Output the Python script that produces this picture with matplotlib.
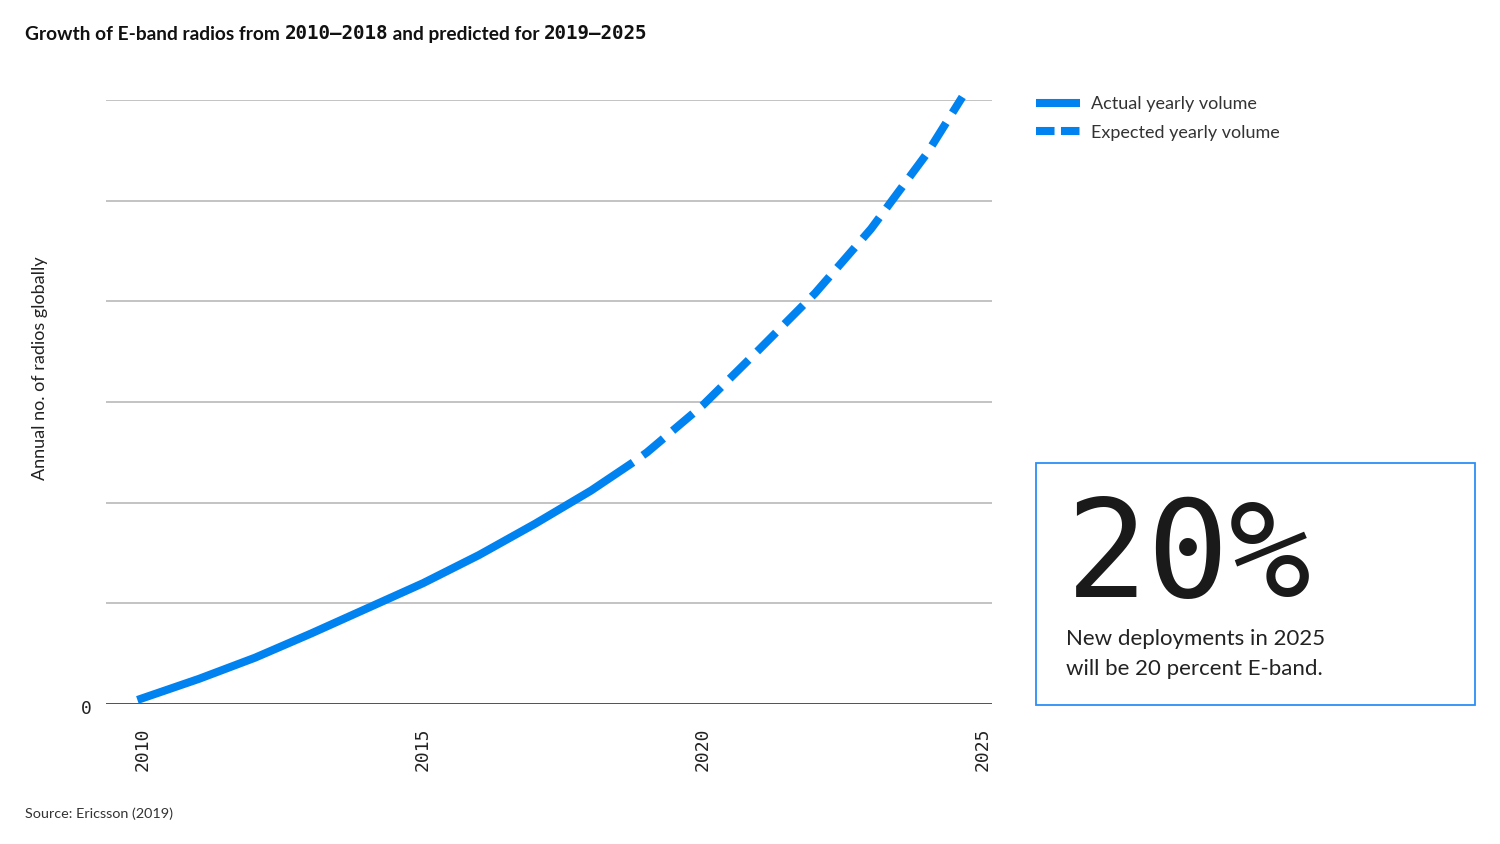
import matplotlib
matplotlib.use("Agg")
import matplotlib.pyplot as plt
from matplotlib.lines import Line2D
from matplotlib.patches import Rectangle

# values (units = gridline steps, axis has no scale)
actual_years = [2009.9, 2011, 2012, 2013, 2014, 2015, 2016, 2017, 2018, 2018.75]
actual_vals = [0.04, 0.25, 0.46, 0.7, 0.95, 1.2, 1.48, 1.79, 2.12, 2.4]
expected_years = [2018.75, 2019, 2020, 2021, 2022, 2023, 2024, 2024.63]
expected_vals = [2.4, 2.5, 2.97, 3.52, 4.08, 4.72, 5.47, 6.03]
year_ticks = [2010, 2015, 2020, 2025]
grid_levels = [1, 2, 3, 4, 5, 6]

BLUE = "#0082f0"
TXT = "#222222"
SANS = ["Lato", "DejaVu Sans"]
MONO = ["DejaVu Sans Mono"]

fig = plt.figure(figsize=(15, 8.44), dpi=100)
ax = fig.add_axes([106 / 1500, 1 - 704 / 844, 886 / 1500, 604 / 844])
ax.set_xlim(2009.339, 2025.16)
ax.set_ylim(0, 6)

for g in grid_levels:
    ax.axhline(g, color="#b3b3b3", lw=1.1, zorder=1)
ax.axhline(0, color="#444444", lw=1.3, zorder=1)

lw = 5.8
ax.plot(actual_years, actual_vals, color=BLUE, lw=lw, solid_capstyle="butt",
        solid_joinstyle="round", clip_on=False, zorder=3)
# dashed part starts with a gap right after the solid part
ax.plot(expected_years, expected_vals, color=BLUE, lw=lw, linestyle=(3.3, (3.3, 1.5)),
        dash_capstyle="butt", dash_joinstyle="round", clip_on=False, zorder=3)

for s in ax.spines.values():
    s.set_visible(False)
ax.set_yticks([])
ax.annotate("0", xy=(0, 0), xycoords=("axes fraction", "data"),
            xytext=(-14, -3.6), textcoords="offset points", ha="center",
            va="center", fontsize=13, color=TXT, family=MONO)
ax.set_xticks(year_ticks)
ax.set_xticklabels([str(y) for y in year_ticks], rotation=90, fontfamily=MONO,
                   fontsize=13, color=TXT, va="top", ha="center")
ax.tick_params(length=0, pad=17)

fig.text(40 / 1500, 1 - 368 / 844, "Annual no. of radios globally", rotation=90,
         ha="center", va="center", fontsize=13, color=TXT, family=SANS)

# title: sans words with mono digits, chained one after the other
parts = [("Growth of E-band radios from ", SANS), ("2010\u20142018", MONO),
         (" and predicted for ", SANS), ("2019\u20142025", MONO)]
prev = fig.text(25 / 1500, 1 - 40 / 844, parts[0][0], fontsize=13.8,
                color="#111111", family=parts[0][1], fontweight="bold",
                ha="left", va="baseline")
for txt, fam in parts[1:]:
    prev = ax.annotate(txt, xy=(1, 0), xycoords=prev, ha="left", va="bottom",
                       fontsize=13.8, color="#111111", family=fam,
                       fontweight="bold", annotation_clip=False)

fig.text(25 / 1500, 1 - 818 / 844, "Source: Ericsson (2019)", fontsize=10.4,
         color="#333333", family=SANS, ha="left", va="baseline")

# legend
handles = [Line2D([], [], color=BLUE, lw=lw, solid_capstyle="butt"),
           Line2D([], [], color=BLUE, lw=lw, dashes=(2.3, 0.8), dash_capstyle="butt")]
fig.legend(handles, ["Actual yearly volume", "Expected yearly volume"],
           loc="upper left", bbox_to_anchor=(1020 / 1500, 1 - 80 / 844),
           frameon=False, handlelength=2.45, handletextpad=0.6,
           labelspacing=0.68, prop={"family": SANS, "size": 13},
           labelcolor="#333333")

# highlight box
fig.patches.append(Rectangle((1036 / 1500, 1 - 705 / 844), 439 / 1500, 242 / 844,
                             transform=fig.transFigure, fill=False,
                             edgecolor="#2b8ff5", lw=1.3))
fig.text(1066 / 1500, 1 - 597 / 844, "20%", fontsize=98, color="#1a1a1a",
         family=MONO, ha="left", va="baseline")
fig.text(1066 / 1500, 1 - 645 / 844, "New deployments in 2025", fontsize=16,
         color=TXT, family=SANS, ha="left", va="baseline")
fig.text(1066 / 1500, 1 - 675 / 844, "will be 20 percent E-band.", fontsize=16,
         color=TXT, family=SANS, ha="left", va="baseline")

fig.savefig("out.png", dpi=100)
